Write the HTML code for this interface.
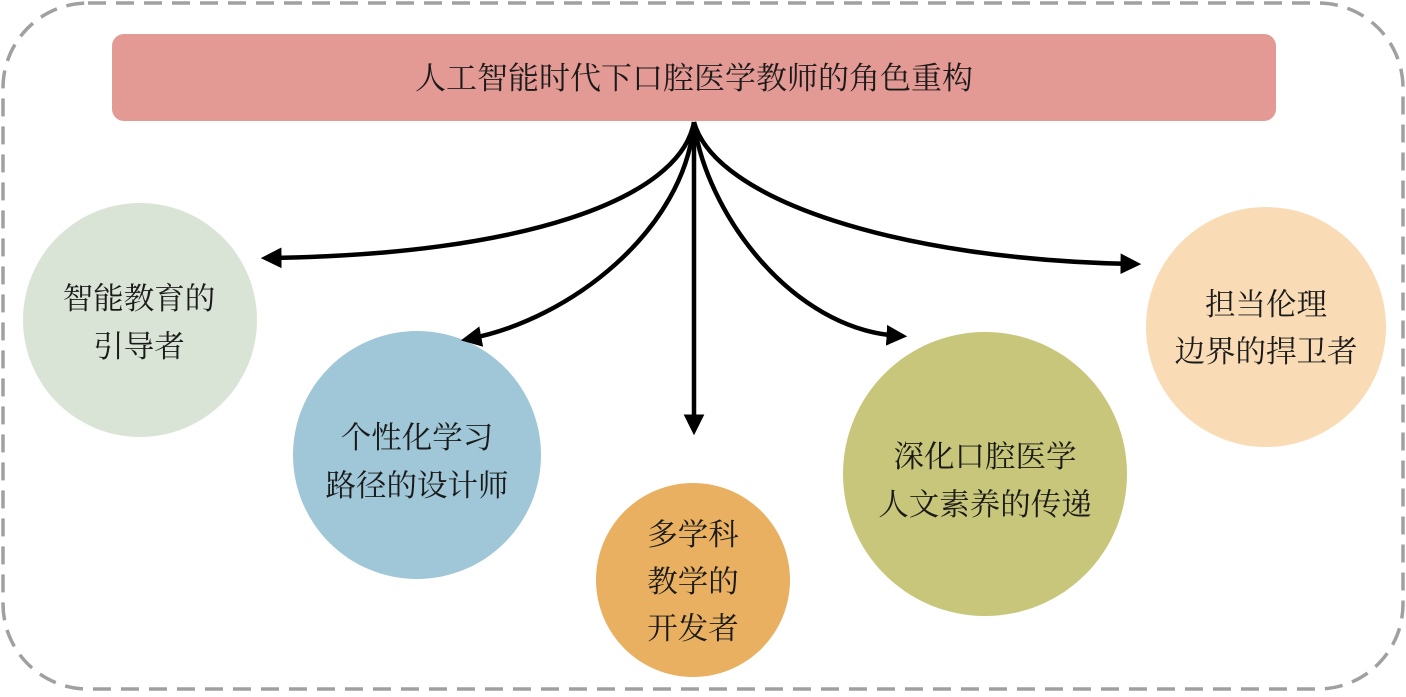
<!DOCTYPE html>
<html><head><meta charset="utf-8"><style>
body{margin:0;background:#fff;}
svg text{font-family:"Liberation Serif","Noto Serif CJK SC",serif;fill:#1a1a1a;}
</style></head><body>
<svg width="1406" height="692" viewBox="0 0 1406 692" xmlns="http://www.w3.org/2000/svg">
<defs><marker id="a" markerWidth="6" markerHeight="6" refX="3" refY="3" orient="auto" markerUnits="strokeWidth">
<path d="M0,0.7 L4.6,3 L0,5.3 Z" fill="#000"/></marker></defs>
<rect x="3" y="3" width="1400" height="686" rx="85" fill="none" stroke="#a0a0a0" stroke-width="3.5" stroke-dasharray="18,10"/>
<rect x="112" y="34" width="1164" height="87" rx="12" fill="#e49a94"/>
<text x="694" y="89" font-size="31" text-anchor="middle">人工智能时代下口腔医学教师的角色重构</text>
<circle cx="140" cy="320" r="117" fill="#d9e4d6"/>
<circle cx="417" cy="455" r="124" fill="#9fc7d8"/>
<circle cx="693" cy="580" r="97" fill="#e8b060"/>
<circle cx="985" cy="474" r="142" fill="#c8c67a"/>
<circle cx="1266" cy="327" r="120" fill="#f9dcb5"/>
<g fill="none" stroke="#000" stroke-width="4.5" marker-end="url(#a)">
<path d="M694,122 L694,428"/>
<path d="M694,122 C680,200 520,255 268,258"/>
<path d="M694,122 C685,230 570,320 468,339"/>
<path d="M694,122 C705,210 790,330 900,336"/>
<path d="M694,122 C715,200 900,260 1134,264"/>
</g>
<g font-size="30.5" text-anchor="middle">
<text x="139" y="309">智能教育的</text><text x="139" y="357">引导者</text>
<text x="417" y="448">个性化学习</text><text x="417" y="496">路径的设计师</text>
<text x="693" y="545">多学科</text><text x="693" y="592">教学的</text><text x="693" y="639">开发者</text>
<text x="985" y="467">深化口腔医学</text><text x="985" y="515">人文素养的传递</text>
<text x="1266" y="315">担当伦理</text><text x="1266" y="362">边界的捍卫者</text>
</g>
</svg>
</body></html>
